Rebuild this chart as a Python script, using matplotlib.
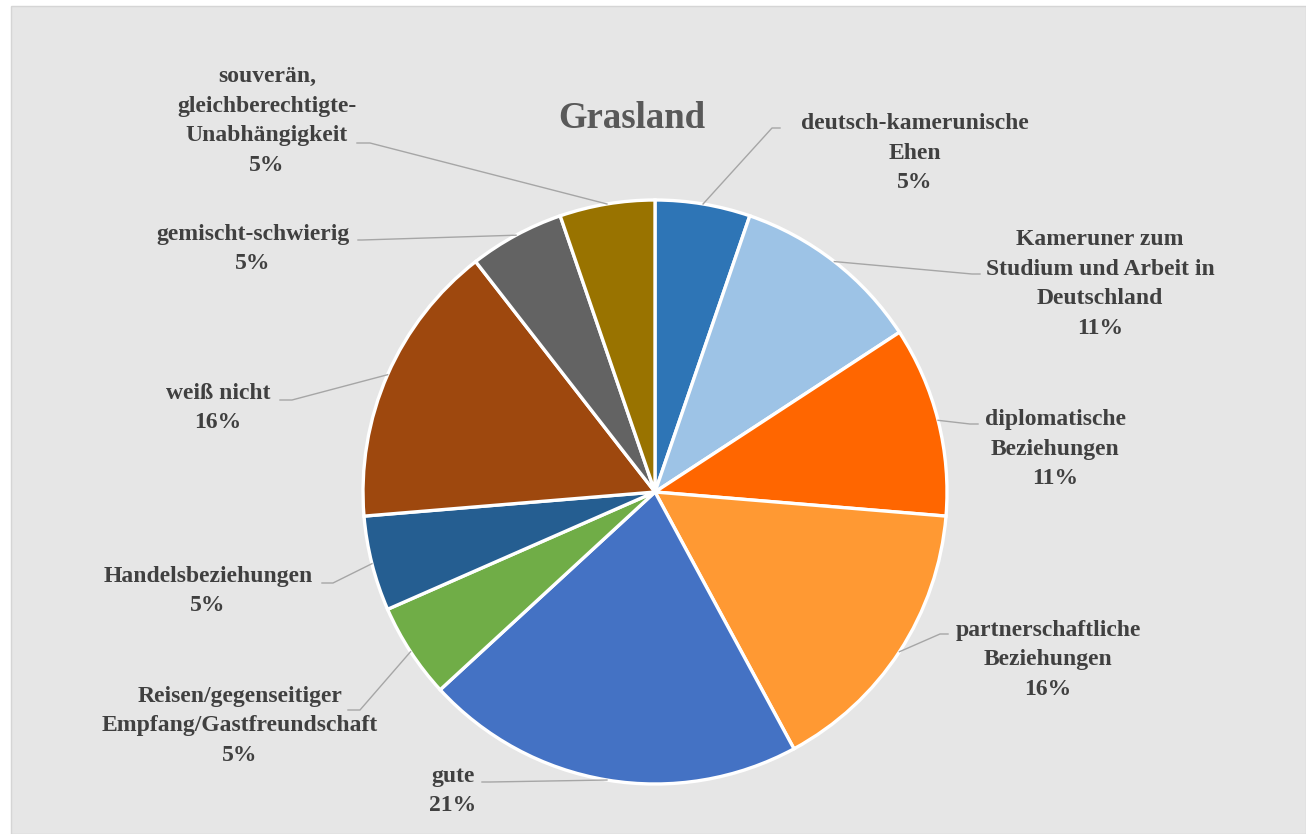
import numpy as np
import matplotlib
matplotlib.use('Agg')
import matplotlib.pyplot as plt
from matplotlib.patches import Rectangle

# data (responses, shown as percent of 19)
labels = ['deutsch-kamerunische\nEhen',
          'Kameruner zum\nStudium und Arbeit in\nDeutschland',
          'diplomatische\nBeziehungen',
          'partnerschaftliche\nBeziehungen',
          'gute',
          'Reisen/gegenseitiger\nEmpfang/Gastfreundschaft',
          'Handelsbeziehungen',
          'weiß nicht',
          'gemischt-schwierig',
          'souverän,\ngleichberechtigte-\nUnabhängigkeit']
counts = [1, 2, 2, 3, 4, 1, 1, 3, 1, 1]
colors = ['#2E75B6', '#9DC3E6', '#FF6600', '#FF9933', '#4472C4',
          '#70AD47', '#255E91', '#9E480E', '#636363', '#997300']
title = 'Grasland'

# layout in image pixels (x, y from top)
W, H = 1306, 834
CX, CY, R = 655, 492, 292
text_pos = [(915, 153), (1100, 284), (1055, 449), (1048, 660), (453, 791),
            (240, 726), (208, 591), (218, 408), (253, 249), (267, 121)]
leader = [[(772, 128), (780, 128)],
          [(972, 274), (980, 274)],
          [(970, 424), (978, 424)],
          [(940, 634), (948, 634)],
          [(490, 782), (482, 782)],
          [(360, 710), (348, 710)],
          [(333, 583), (322, 583)],
          [(292, 400), (280, 400)],
          [(362, 240), (358, 240)],
          [(370, 143), (357, 143)]]

FONT = 'Liberation Serif'

fig = plt.figure(figsize=(W / 100, H / 100), dpi=100)
fig.patch.set_facecolor('white')
fig.patches.append(Rectangle((11 / W, 0), 1 - 11 / W, (H - 6) / H,
                             transform=fig.transFigure, facecolor='#E6E6E6',
                             edgecolor='#D5D5D5', linewidth=1, zorder=-10))

ax = fig.add_axes([0, 0, 1, 1])
ax.set_facecolor('none')

def Y(y):
    return H - y

wedges, _ = ax.pie(counts, colors=colors, startangle=90, counterclock=False,
                   center=(CX, Y(CY)), radius=R, frame=False,
                   wedgeprops=dict(edgecolor='white', linewidth=2.4))
ax.set_xlim(0, W)
ax.set_ylim(0, H)
ax.set_aspect('auto')
ax.axis('off')

total = sum(counts)
for i, w in enumerate(wedges):
    mid = np.deg2rad((w.theta1 + w.theta2) / 2)
    ex = w.center[0] + w.r * np.cos(mid)
    ey = w.center[1] + w.r * np.sin(mid)
    xs = [ex] + [p[0] for p in leader[i]]
    ys = [ey] + [Y(p[1]) for p in leader[i]]
    ax.plot(xs, ys, color='#A6A6A6', linewidth=1.0, zorder=1)
    pct = round(100 * counts[i] / total)
    tx, ty = text_pos[i]
    ax.text(tx, Y(ty), f'{labels[i]}\n{pct}%', ha='center', va='center',
            multialignment='center', fontsize=17, fontfamily=FONT,
            fontweight='bold', color='#404040', linespacing=1.56)

ax.text(632, Y(118), title, ha='center', va='center', fontsize=26.5,
        fontfamily=FONT, fontweight='bold', color='#595959')

fig.savefig('out.png', dpi=100)
